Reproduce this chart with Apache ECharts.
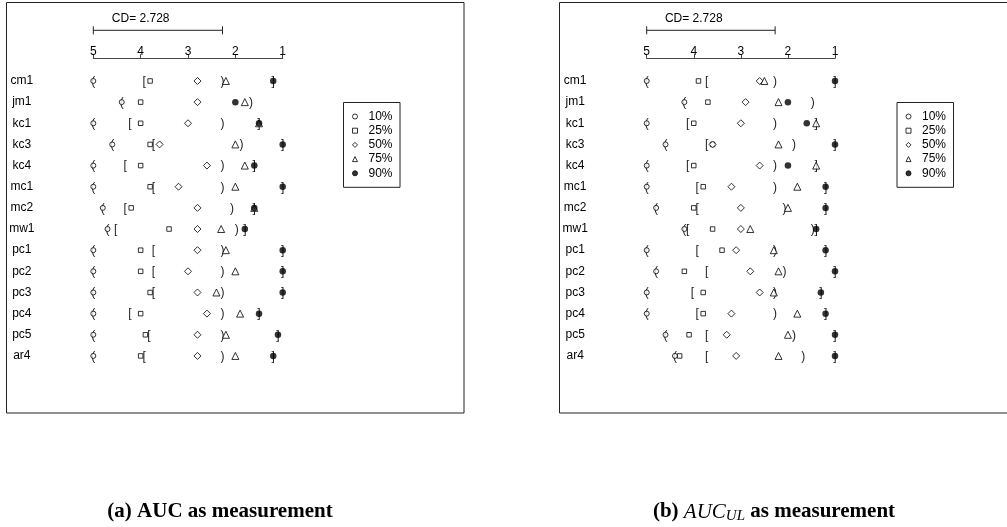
<!DOCTYPE html>
<html>
<head>
<meta charset="utf-8">
<script src="https://cdn.jsdelivr.net/npm/echarts@6/dist/echarts.min.js"></script>
<style>
  html, body { margin: 0; padding: 0; background: #fff; }
  #chart { width: 1007px; height: 527px; }
</style>
</head>
<body>
<div id="chart"></div>
<script>
// Data sets (rows, top to bottom)
const datasets = ['cm1', 'jm1', 'kc1', 'kc3', 'kc4', 'mc1', 'mc2', 'mw1', 'pc1', 'pc2', 'pc3', 'pc4', 'pc5', 'ar4'];

// Critical difference of the Nemenyi test
const cd = 2.728;

// Average ranks, panel (a): AUC
const auc10 = [5.0, 4.4, 5.0, 4.6, 5.0, 5.0, 4.8, 4.7, 5.0, 5.0, 5.0, 5.0, 5.0, 5.0];
const auc25 = [3.8, 4.0, 4.0, 3.8, 4.0, 3.8, 4.2, 3.4, 4.0, 4.0, 3.8, 4.0, 3.9, 4.0];
const auc50 = [2.8, 2.8, 3.0, 3.6, 2.6, 3.2, 2.8, 2.8, 2.8, 3.0, 2.8, 2.6, 2.8, 2.8];
const auc75 = [2.2, 1.8, 1.5, 2.0, 1.8, 2.0, 1.6, 2.3, 2.2, 2.0, 2.4, 1.9, 2.2, 2.0];
const auc90 = [1.2, 2.0, 1.5, 1.0, 1.6, 1.0, 1.6, 1.8, 1.0, 1.0, 1.0, 1.5, 1.1, 1.2];

// Average ranks, panel (b): AUC_UL
const ul10 = [5.0, 4.2, 5.0, 4.6, 5.0, 5.0, 4.8, 4.2, 5.0, 4.8, 5.0, 5.0, 4.6, 4.4];
const ul25 = [3.9, 3.7, 4.0, 3.6, 4.0, 3.8, 4.0, 3.6, 3.4, 4.2, 3.8, 3.8, 4.1, 4.3];
const ul50 = [2.6, 2.9, 3.0, 3.6, 2.6, 3.2, 3.0, 3.0, 3.1, 2.8, 2.6, 3.2, 3.3, 3.1];
const ul75 = [2.5, 2.2, 1.4, 2.2, 1.4, 1.8, 2.0, 2.8, 2.3, 2.2, 2.3, 1.8, 2.0, 2.2];
const ul90 = [1.0, 2.0, 1.6, 1.0, 2.0, 1.2, 1.2, 1.4, 1.2, 1.0, 1.3, 1.2, 1.0, 1.0];

// Legend names and rank axis ticks
const levels = ['10%', '25%', '50%', '75%', '90%'];
const cdLabelAt = 4;

const SANS = '"Liberation Sans", Arial, Helvetica, sans-serif';
const SERIF = '"Liberation Serif", "Times New Roman", serif';
const AXIS_Y = 58.3;      // y of the rank axis line
const GRID_TOP = 70.4;
const GRID_H = 296.1;

const markerStyles = [
  { symbol: 'circle',   size: 5,   itemStyle: { color: '#fff', borderColor: '#000', borderWidth: 1 } },
  { symbol: 'rect',     size: 4.5, itemStyle: { color: '#fff', borderColor: '#000', borderWidth: 1 } },
  { symbol: 'diamond',  size: 7,   itemStyle: { color: '#fff', borderColor: '#000', borderWidth: 1 } },
  { symbol: 'triangle', size: 7,   itemStyle: { color: '#fff', borderColor: '#000', borderWidth: 1 } },
  { symbol: 'circle',   size: 6.5, itemStyle: { color: '#000', borderColor: '#000', borderWidth: 0 } }
];

const panels = [
  { cols: [auc10, auc25, auc50, auc75, auc90], left: 93.3, width: 189.4, legendLeft: 343.5 },
  { cols: [ul10, ul25, ul50, ul75, ul90],      left: 646.7, width: 188.3, legendLeft: 897 }
];

// Group brackets: "(" at the worst rank, ")" one CD better;
// "]" at the best rank, "[" one CD worse (only when inside the spread).
function bracketData(cols) {
  const items = [];
  datasets.forEach((name, i) => {
    const vals = cols.map(c => c[i]);
    const hi = Math.max(...vals), lo = Math.min(...vals);
    items.push({ value: [hi, i], ch: '(' });
    items.push({ value: [hi - cd, i], ch: ')' });
    if (lo + cd < hi) {
      items.push({ value: [lo + cd, i], ch: '[' });
      items.push({ value: [lo, i], ch: ']' });
    }
  });
  return items;
}

const grid = [], xAxis = [], yAxis = [], series = [], legend = [];

panels.forEach((p, k) => {
  grid.push({ left: p.left, width: p.width, top: GRID_TOP, height: GRID_H, containLabel: false });
  xAxis.push({
    gridIndex: k, type: 'value', min: 1, max: 5, interval: 1, inverse: true,
    position: 'top', offset: GRID_TOP - AXIS_Y,
    axisLine: { show: true, lineStyle: { color: '#444', width: 1 } },
    axisTick: { show: true, length: 4, lineStyle: { color: '#444', width: 1 } },
    axisLabel: { margin: 1, fontSize: 12, color: '#000', fontFamily: SANS },
    splitLine: { show: false }
  });
  yAxis.push({
    gridIndex: k, type: 'category', data: datasets, inverse: true,
    axisLine: { show: false }, axisTick: { show: false }, splitLine: { show: false },
    axisLabel: { align: 'center', margin: 71.5, fontSize: 12, color: '#000', fontFamily: SANS }
  });

  // CD scale bar above the rank axis
  series.push({
    type: 'custom', xAxisIndex: k, yAxisIndex: k, silent: true, clip: false,
    data: [[5, 5 - cd]],
    encode: { x: [0, 1] },
    renderItem: function (params, api) {
      const x0 = api.coord([api.value(0), 0])[0];
      const x1 = api.coord([api.value(1), 0])[0];
      const xt = api.coord([cdLabelAt, 0])[0];
      const y = AXIS_Y - 28;
      const ls = { stroke: '#222', lineWidth: 1 };
      return {
        type: 'group',
        children: [
          { type: 'line', shape: { x1: x0, y1: y, x2: x1, y2: y }, style: ls },
          { type: 'line', shape: { x1: x0, y1: y - 4, x2: x0, y2: y + 4 }, style: ls },
          { type: 'line', shape: { x1: x1, y1: y - 4, x2: x1, y2: y + 4 }, style: ls },
          { type: 'text', x: xt, y: AXIS_Y - 40,
            style: { text: 'CD= ' + cd, font: '12px ' + SANS, fill: '#000', align: 'center', verticalAlign: 'middle' } }
        ]
      };
    }
  });

  // Bracket glyphs
  const br = bracketData(p.cols);
  series.push({
    type: 'custom', xAxisIndex: k, yAxisIndex: k, silent: true, clip: false, z: 2,
    data: br.map(b => b.value),
    renderItem: function (params, api) {
      const pt = api.coord([api.value(0), api.value(1)]);
      return {
        type: 'text', x: pt[0], y: pt[1] + 0.5,
        style: { text: br[params.dataIndex].ch, font: '12px ' + SANS, fill: '#222', align: 'center', verticalAlign: 'middle' }
      };
    }
  });

  // Rank markers per percentile
  p.cols.forEach((col, j) => {
    const ms = markerStyles[j];
    series.push({
      name: levels[j], type: 'scatter', xAxisIndex: k, yAxisIndex: k, z: 3,
      symbol: ms.symbol, symbolSize: ms.size, itemStyle: ms.itemStyle,
      emphasis: { disabled: true }, silent: true,
      data: col.map((v, i) => [v, i])
    });
  });

  legend.push({
    data: levels, orient: 'vertical', left: p.legendLeft, top: 102.5,
    padding: [7, 7.5, 7, 8.5], itemGap: 0.2, itemWidth: 5, itemHeight: 5,
    borderColor: '#222', borderWidth: 1, selectedMode: false,
    itemStyle: { borderWidth: 1 },
    textStyle: { fontSize: 12, color: '#000', fontFamily: SANS, lineHeight: 14, padding: [0, 0, 0, 6] }
  });
});

const option = {
  animation: false,
  backgroundColor: '#fff',
  grid, xAxis, yAxis, series, legend,
  graphic: [
    { type: 'rect', shape: { x: 6.5, y: 2.5, width: 457.5, height: 410.5 }, style: { fill: 'none', stroke: '#222', lineWidth: 1 }, silent: true },
    { type: 'rect', shape: { x: 559.5, y: 2.5, width: 460, height: 410.5 }, style: { fill: 'none', stroke: '#222', lineWidth: 1 }, silent: true },
    { type: 'text', x: 220, y: 512, silent: true,
      style: { text: '(a) AUC as measurement', font: 'bold 21px ' + SERIF, fill: '#000', align: 'center', verticalAlign: 'middle' } },
    { type: 'text', x: 774, y: 512, silent: true,
      style: {
        text: '{b|(b) }{i|AUC}{s|UL}{b| as measurement}',
        align: 'center', verticalAlign: 'middle',
        rich: {
          b: { fontFamily: SERIF, fontWeight: 'bold', fontSize: 21, lineHeight: 24, fill: '#000' },
          i: { fontFamily: SERIF, fontStyle: 'italic', fontSize: 21, lineHeight: 24, fill: '#000' },
          s: { fontFamily: SERIF, fontStyle: 'italic', fontSize: 15, lineHeight: 13, verticalAlign: 'bottom', fill: '#000' }
        }
      } }
  ]
};

const chart = echarts.init(document.getElementById('chart'), null, { renderer: 'canvas' });
chart.setOption(option);
</script>
</body>
</html>
